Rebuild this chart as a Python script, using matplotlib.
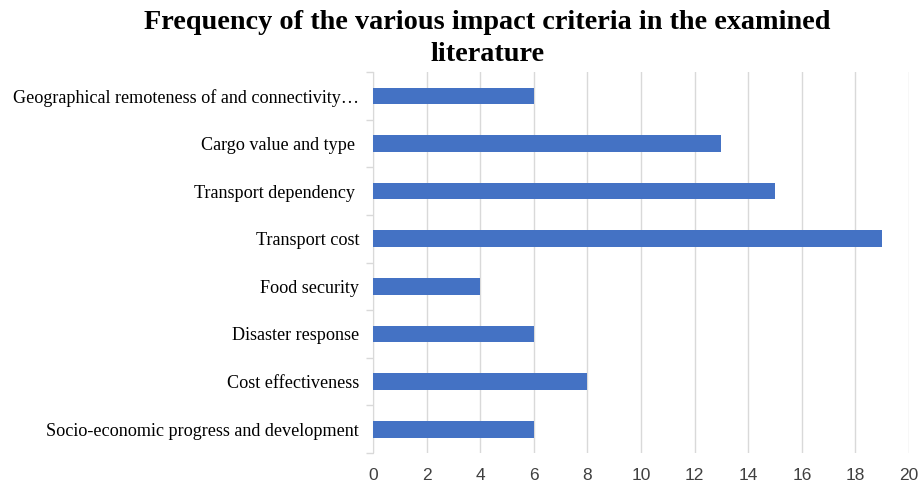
import numpy as np
import matplotlib.pyplot as plt

# categories listed bottom to top
categories = ['Socio-economic progress and development', 'Cost effectiveness',
              'Disaster response', 'Food security', 'Transport cost',
              'Transport dependency ', 'Cargo value and type ',
              'Geographical remoteness of and connectivity\u2026']
counts = [6, 8, 6, 4, 19, 15, 13, 6]
xticks = [0, 2, 4, 6, 8, 10, 12, 14, 16, 18, 20]

fig = plt.figure(figsize=(9.21, 4.84), dpi=100)
ax = fig.add_axes([0.405, 0.064, 0.582, 0.787])

y = np.arange(len(categories))
ax.barh(y, counts, height=0.35, color='#4472c4', zorder=3)

ax.set_xlim(0, 20)
ax.set_ylim(-0.5, len(categories) - 0.5)
ax.set_xticks(xticks)
ax.set_xticklabels([str(t) for t in xticks], fontsize=12.5, color='#404040',
                   family='Liberation Sans')
ax.tick_params(axis='x', length=0, pad=11)
ax.grid(axis='x', color='#d9d9d9', linewidth=1, zorder=0)

# category labels without ticks, boundary ticks as minor
ax.set_yticks(y)
ax.set_yticklabels(categories, fontsize=13.1, family='Liberation Serif', color='black')
ax.tick_params(axis='y', which='major', length=0, pad=10)
ax.set_yticks(np.arange(-0.5, len(categories)), minor=True)
ax.tick_params(axis='y', which='minor', length=5, color='#d9d9d9', width=1)

for s in ['top', 'right', 'bottom']:
    ax.spines[s].set_visible(False)
ax.spines['left'].set_color('#d9d9d9')

fig.text(0.529, 0.92, 'Frequency of the various impact criteria in the examined\nliterature',
         ha='center', va='center', fontsize=20.3, fontweight='bold',
         family='Liberation Serif', linespacing=1.35)

plt.savefig('out.png', dpi=100)
